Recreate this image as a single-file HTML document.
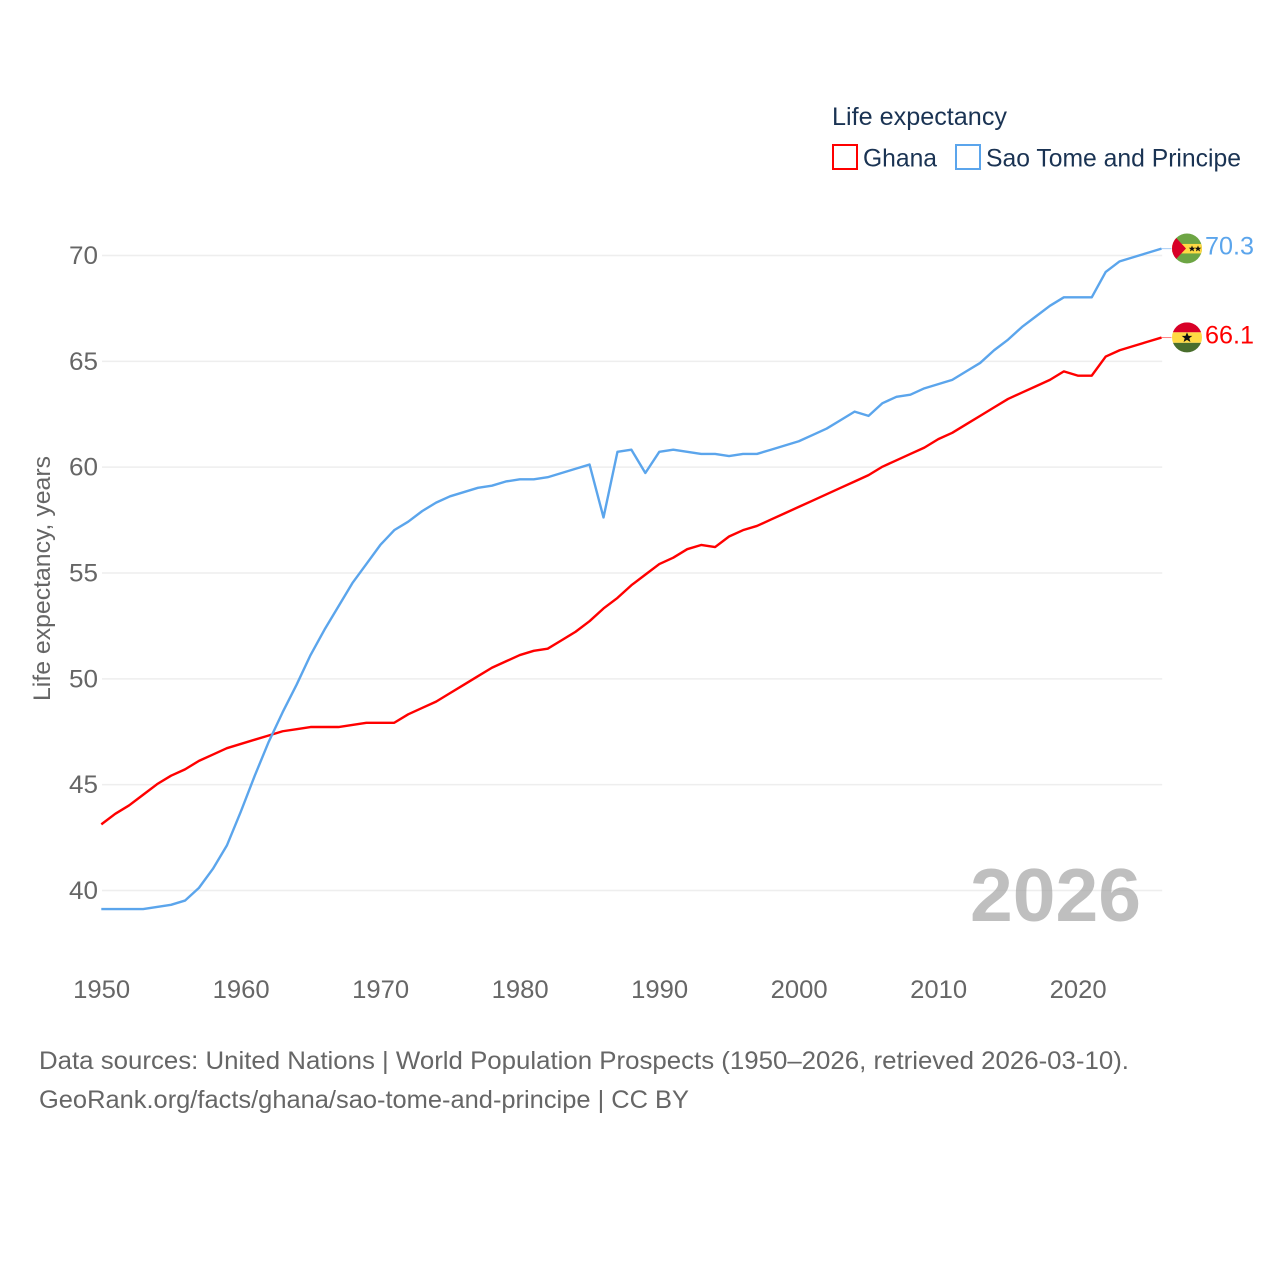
<!DOCTYPE html>
<html lang="en">
<head>
<meta charset="utf-8">
<title>Life expectancy: Ghana and Sao Tome and Principe</title>
<style>
html,body{margin:0;padding:0;background:#fff;width:1280px;height:1280px;overflow:hidden}
svg{display:block;font-family:"Liberation Sans",sans-serif}
</style>
</head>
<body>
<svg id="chart" xmlns="http://www.w3.org/2000/svg" width="1280" height="1280" viewBox="0 0 1280 1280">
  <defs>
    <clipPath id="flag-clip"><circle cx="0" cy="0" r="15"></circle></clipPath>
  </defs>
  <rect x="0" y="0" width="1280" height="1280" fill="#fff"></rect>

  <g>
    <text x="832" y="125" font-size="25" fill="#1a3353" textLength="175" lengthAdjust="spacingAndGlyphs">Life expectancy</text>
    <g>
      <rect x="833" y="145" width="24" height="24" fill="none" stroke="#ff0000" stroke-width="2"></rect>
      <text x="863" y="166.500" font-size="25" fill="#1a3353" textLength="74" lengthAdjust="spacingAndGlyphs">Ghana</text>
    </g>
    <g>
      <rect x="956" y="145" width="24" height="24" fill="none" stroke="#5ba5ec" stroke-width="2"></rect>
      <text x="986" y="166.500" font-size="25" fill="#1a3353" textLength="255" lengthAdjust="spacingAndGlyphs">Sao Tome and Principe</text>
    </g>
  </g>

  <g id="grid"></g>
  <g id="y-ticks"></g>
  <g id="x-ticks"></g>

  <text transform="translate(50,701) rotate(-90)" font-size="24" fill="#666666" textLength="245" lengthAdjust="spacingAndGlyphs">Life expectancy, years</text>

  <text id="year-label" x="970" y="921" font-size="75" font-weight="700" fill="#a6a6a6" fill-opacity="0.72" textLength="171" lengthAdjust="spacingAndGlyphs">2026</text>

  <g id="series" transform="translate(-0.7,-0.5)"></g>

  <g id="flag-stp">
    <g clip-path="url(#flag-clip)">
      <rect x="-15" y="-15" width="30" height="30" fill="#6da544"></rect>
      <rect x="-15" y="-4.500" width="30" height="9.500" fill="#ffda44"></rect>
      <polygon points="-15,-15 -1,0 -15,15" fill="#d80027"></polygon>
      <polygon points="5,-3 5.900,-0.700 8.300,-0.700 6.400,0.800 7.100,3.100 5,1.700 2.900,3.100 3.600,0.800 1.700,-0.700 4.100,-0.700" fill="#111"></polygon>
      <polygon points="11,-3 11.900,-0.700 14.300,-0.700 12.400,0.800 13.100,3.100 11,1.700 8.900,3.100 9.600,0.800 7.700,-0.700 10.100,-0.700" fill="#111"></polygon>
    </g>
  </g>
  <g id="flag-gha">
    <g clip-path="url(#flag-clip)">
      <rect x="-15" y="-15" width="30" height="10" fill="#d80027"></rect>
      <rect x="-15" y="-5" width="30" height="10.500" fill="#ffda44"></rect>
      <rect x="-15" y="5.500" width="30" height="10" fill="#496e2d"></rect>
      <polygon points="0,-5 1.500,-1.500 5.300,-1.500 2.300,0.900 3.400,4.600 0,2.500 -3.400,4.600 -2.300,0.900 -5.300,-1.500 -1.500,-1.500" fill="#111"></polygon>
    </g>
  </g>

  <text id="value-stp" x="1205" font-size="25" fill="#5ba5ec" textLength="49" lengthAdjust="spacingAndGlyphs"></text>
  <text id="value-gha" x="1205" font-size="25" fill="#ff0000" textLength="49" lengthAdjust="spacingAndGlyphs"></text>

  <g>
    <text x="39" y="1069" font-size="25" fill="#666666" textLength="1090" lengthAdjust="spacingAndGlyphs">Data sources: United Nations | World Population Prospects (1950–2026, retrieved 2026-03-10).</text>
    <text x="39" y="1108" font-size="25" fill="#666666" textLength="650" lengthAdjust="spacingAndGlyphs">GeoRank.org/facts/ghana/sao-tome-and-principe | CC BY</text>
  </g>
</svg>

<script>
const startYear = 1950;
const yTickValues = [40, 45, 50, 55, 60, 65, 70];
const xTickValues = [1950, 1960, 1970, 1980, 1990, 2000, 2010, 2020];
const ghanaValues = [
  43.1, 43.6, 44.0, 44.5, 45.0, 45.4, 45.7, 46.1, 46.4, 46.7,
  46.9, 47.1, 47.3, 47.5, 47.6, 47.7, 47.7, 47.7, 47.8, 47.9,
  47.9, 47.9, 48.3, 48.6, 48.9, 49.3, 49.7, 50.1, 50.5, 50.8,
  51.1, 51.3, 51.4, 51.8, 52.2, 52.7, 53.3, 53.8, 54.4, 54.9,
  55.4, 55.7, 56.1, 56.3, 56.2, 56.7, 57.0, 57.2, 57.5, 57.8,
  58.1, 58.4, 58.7, 59.0, 59.3, 59.6, 60.0, 60.3, 60.6, 60.9,
  61.3, 61.6, 62.0, 62.4, 62.8, 63.2, 63.5, 63.8, 64.1, 64.5,
  64.3, 64.3, 65.2, 65.5, 65.7, 65.9, 66.1
];
const saoTomeValues = [
  39.1, 39.1, 39.1, 39.1, 39.2, 39.3, 39.5, 40.1, 41.0, 42.1,
  43.7, 45.4, 47.0, 48.4, 49.7, 51.1, 52.3, 53.4, 54.5, 55.4,
  56.3, 57.0, 57.4, 57.9, 58.3, 58.6, 58.8, 59.0, 59.1, 59.3,
  59.4, 59.4, 59.5, 59.7, 59.9, 60.1, 57.6, 60.7, 60.8, 59.7,
  60.7, 60.8, 60.7, 60.6, 60.6, 60.5, 60.6, 60.6, 60.8, 61.0,
  61.2, 61.5, 61.8, 62.2, 62.6, 62.4, 63.0, 63.3, 63.4, 63.7,
  63.9, 64.1, 64.5, 64.9, 65.5, 66.0, 66.6, 67.1, 67.6, 68.0,
  68.0, 68.0, 69.2, 69.7, 69.9, 70.1, 70.3
];

const NS = 'http://www.w3.org/2000/svg';
const xLeft = 102, xPerYear = 13.95;
const yAt40 = 890.5, yPerUnit = 21.167;
function xScale(year) { return xLeft + (year - 1950) * xPerYear; }
function yScale(value) { return yAt40 - (value - 40) * yPerUnit; }
const xRight = xScale(2026);

const gridGroup = document.getElementById('grid');
const yTickGroup = document.getElementById('y-ticks');
const xTickGroup = document.getElementById('x-ticks');
const seriesGroup = document.getElementById('series');

yTickValues.forEach(function (v) {
  const line = document.createElementNS(NS, 'line');
  
  
  line.setAttribute('x1', xLeft);
  line.setAttribute('x2', xRight);
  line.setAttribute('y1', yScale(v));
  line.setAttribute('y2', yScale(v));
  line.setAttribute('stroke', '#eeeeee');
  line.setAttribute('stroke-width', '1.5');
  gridGroup.appendChild(line);

  const label = document.createElementNS(NS, 'text');
  
  
  label.setAttribute('x', 69);
  label.setAttribute('y', yScale(v) + 8.5);
  label.setAttribute('font-size', '25');
  label.setAttribute('fill', '#666666');
  label.setAttribute('textLength', '29');
  label.setAttribute('lengthAdjust', 'spacingAndGlyphs');
  label.textContent = v;
  yTickGroup.appendChild(label);
});

xTickValues.forEach(function (yr) {
  const label = document.createElementNS(NS, 'text');
  
  
  label.setAttribute('x', xScale(yr) - 0.3);
  label.setAttribute('y', 998);
  label.setAttribute('text-anchor', 'middle');
  label.setAttribute('font-size', '25');
  label.setAttribute('fill', '#666666');
  label.setAttribute('textLength', '57');
  label.setAttribute('lengthAdjust', 'spacingAndGlyphs');
  label.textContent = yr;
  xTickGroup.appendChild(label);
});

function linePoints(values) {
  return values.map(function (v, i) {
    return xScale(startYear + i).toFixed(2) + ',' + yScale(v).toFixed(2);
  }).join(' ');
}

const ghanaLine = document.createElementNS(NS, 'polyline');


ghanaLine.setAttribute('points', linePoints(ghanaValues));
ghanaLine.setAttribute('fill', 'none');
ghanaLine.setAttribute('stroke', '#ff0000');
ghanaLine.setAttribute('stroke-width', '2.4');
ghanaLine.setAttribute('stroke-linejoin', 'round');
seriesGroup.appendChild(ghanaLine);

const saoTomeLine = document.createElementNS(NS, 'polyline');


saoTomeLine.setAttribute('points', linePoints(saoTomeValues));
saoTomeLine.setAttribute('fill', 'none');
saoTomeLine.setAttribute('stroke', '#5ba5ec');
saoTomeLine.setAttribute('stroke-width', '2.4');
saoTomeLine.setAttribute('stroke-linejoin', 'round');
seriesGroup.appendChild(saoTomeLine);

const ghanaLast = ghanaValues[ghanaValues.length - 1];
const saoTomeLast = saoTomeValues[saoTomeValues.length - 1];

const ghanaLeader = document.createElementNS(NS, 'line');


ghanaLeader.setAttribute('x1', xRight);
ghanaLeader.setAttribute('x2', xRight + 10);
ghanaLeader.setAttribute('y1', yScale(ghanaLast));
ghanaLeader.setAttribute('y2', yScale(ghanaLast));
ghanaLeader.setAttribute('stroke', '#ff8080');
ghanaLeader.setAttribute('stroke-width', '1');
seriesGroup.appendChild(ghanaLeader);

const saoTomeLeader = document.createElementNS(NS, 'line');


saoTomeLeader.setAttribute('x1', xRight);
saoTomeLeader.setAttribute('x2', xRight + 10);
saoTomeLeader.setAttribute('y1', yScale(saoTomeLast));
saoTomeLeader.setAttribute('y2', yScale(saoTomeLast));
saoTomeLeader.setAttribute('stroke', '#a8cdf4');
saoTomeLeader.setAttribute('stroke-width', '1');
seriesGroup.appendChild(saoTomeLeader);

document.getElementById('flag-stp').setAttribute('transform', 'translate(1187,' + (yScale(saoTomeLast) - 0.7) + ')');
document.getElementById('flag-gha').setAttribute('transform', 'translate(1187,' + (yScale(ghanaLast) - 0.7) + ')');

const stpValue = document.getElementById('value-stp');
stpValue.setAttribute('y', yScale(saoTomeLast) + 5.5);
stpValue.textContent = saoTomeLast.toFixed(1);
const ghaValue = document.getElementById('value-gha');
ghaValue.setAttribute('y', yScale(ghanaLast) + 5.5);
ghaValue.textContent = ghanaLast.toFixed(1);
</script>
</body>
</html>
